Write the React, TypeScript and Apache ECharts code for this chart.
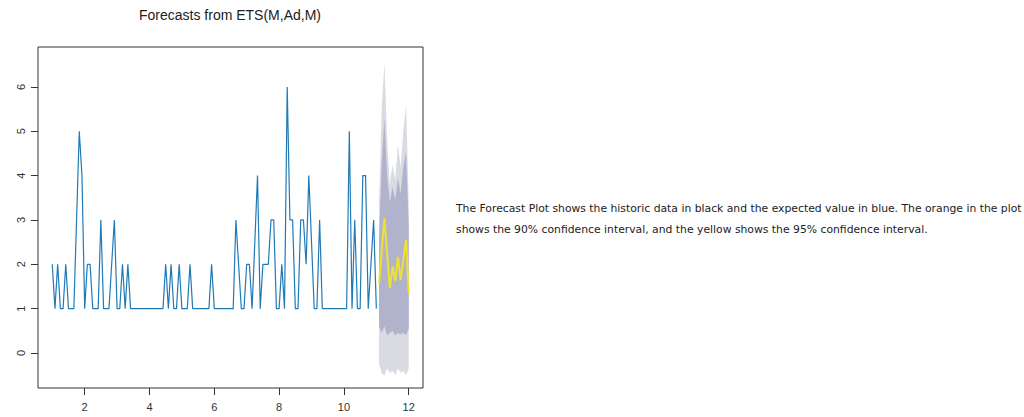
import React, { useEffect, useRef } from "react";
import * as echarts from "echarts";

// Time series layout (start = 1, frequency = 12)
const START = 1;
const FREQ = 12;

const historic: number[] = [
  2, 1, 2, 1, 1, 2, 1, 1, 1, 3, 5, 4,
  1, 2, 2, 1, 1, 1, 3, 1, 1, 1, 2, 3,
  1, 1, 2, 1, 2, 1, 1, 1, 1, 1, 1, 1,
  1, 1, 1, 1, 1, 1, 2, 1, 2, 1, 1, 2,
  1, 1, 1, 2, 1, 1, 1, 1, 1, 1, 1, 2,
  1, 1, 1, 1, 1, 1, 1, 1, 3, 2, 1, 1,
  2, 2, 1, 2.5, 4, 1, 2, 2, 2, 3, 3, 1,
  1, 2, 1, 6, 3, 3, 1, 1, 3, 3, 2, 4,
  2.5, 1, 1, 3, 1, 1, 1, 1, 1, 1, 1, 1,
  1, 1, 5, 1, 3, 1, 1, 4, 4, 1, 2, 3,
  1,
];

// Forecast (12 steps ahead)
const forecastMean: number[] = [1.57, 2.3, 3.04, 2.25, 1.46, 1.95, 1.62, 2.17, 1.65, 2.1, 2.55, 1.35];
const lower80: number[] = [0.6, 0.45, 0.6, 0.4, 0.45, 0.5, 0.4, 0.45, 0.42, 0.45, 0.4, 0.55];
const upper80: number[] = [2.6, 4.3, 5.3, 4.0, 3.4, 3.75, 3.45, 3.95, 3.6, 4.2, 4.55, 2.85];
const lower95: number[] = [-0.25, -0.45, -0.5, -0.35, -0.45, -0.4, -0.5, -0.35, -0.45, -0.4, -0.5, -0.35];
const upper95: number[] = [3.4, 5.5, 6.55, 4.8, 3.8, 4.25, 3.9, 4.7, 4.2, 5.0, 5.6, 3.4];

const xTicks: number[] = [2, 4, 6, 8, 10, 12];
const yTicks: number[] = [0, 1, 2, 3, 4, 5, 6];

const TITLE = "Forecasts from ETS(M,Ad,M)";
const NOTE_1 = "The Forecast Plot shows the historic data in black and the expected value in blue. The orange in the plot";
const NOTE_2 = "shows the 90% confidence interval, and the yellow shows the 95% confidence interval.";

const FONT = "'Liberation Sans', Arial, sans-serif";
const NOTE_FONT = "'DejaVu Sans', Verdana, sans-serif";

export default function App() {
  const ref = useRef<HTMLDivElement>(null);

  useEffect(() => {
    if (!ref.current) return;
    const chart = echarts.init(ref.current, undefined, { renderer: "svg" });

    const histPts = historic.map((v, i) => [START + i / FREQ, v]);
    const fcX = forecastMean.map((_, i) => START + (historic.length + i) / FREQ);
    const meanPts = forecastMean.map((v, i) => [fcX[i], v]);

    const band = (lo: number[], hi: number[], color: string, name: string) => ({
      type: "custom",
      name,
      silent: true,
      clip: true,
      data: hi.map((v, i) => [fcX[i], v, lo[i]]),
      renderItem: (params: any, api: any) => {
        if (params.dataIndex !== 0) return null;
        const top = hi.map((v, i) => api.coord([fcX[i], v]));
        const bot = lo.map((v, i) => api.coord([fcX[i], v])).reverse();
        return {
          type: "polygon",
          shape: { points: top.concat(bot) },
          style: { fill: color, stroke: "none" },
        };
      },
    });

    chart.setOption({
      animation: false,
      grid: {
        left: 38,
        top: 47,
        width: 385,
        height: 341,
        show: true,
        borderColor: "#333",
        borderWidth: 1,
        backgroundColor: "transparent",
      },
      xAxis: {
        type: "value",
        min: 0.56,
        max: 12.44,
        axisLine: { show: false, onZero: false },
        splitLine: { show: false },
        axisTick: { show: true, length: 7, lineStyle: { color: "#333" }, customValues: xTicks },
        axisLabel: { customValues: xTicks, fontSize: 11, color: "#333", margin: 13, fontFamily: FONT },
      },
      yAxis: {
        type: "value",
        min: -0.79,
        max: 6.9,
        axisLine: { show: false, onZero: false },
        splitLine: { show: false },
        axisTick: { show: true, length: 7, lineStyle: { color: "#333" }, customValues: yTicks },
        axisLabel: { customValues: yTicks, rotate: 90, fontSize: 11, color: "#333", margin: 12, fontFamily: FONT },
      },
      graphic: [
        {
          type: "text",
          x: 230,
          y: 15,
          style: {
            text: TITLE,
            fontSize: 14,
            fontFamily: FONT,
            fill: "#222",
            textAlign: "center",
            textVerticalAlign: "middle",
          },
        },
        {
          type: "text",
          x: 456,
          y: 208,
          style: {
            text: NOTE_1,
            fontSize: 10.8,
            fontFamily: NOTE_FONT,
            fill: "#222",
            textAlign: "left",
            textVerticalAlign: "middle",
          },
        },
        {
          type: "text",
          x: 456,
          y: 229,
          style: {
            text: NOTE_2,
            fontSize: 10.8,
            fontFamily: NOTE_FONT,
            fill: "#222",
            textAlign: "left",
            textVerticalAlign: "middle",
          },
        },
      ],
      series: [
        band(lower95, upper95, "#dadae3", "95%"),
        band(lower80, upper80, "#b1b3cd", "80%"),
        {
          type: "line",
          name: "historic",
          data: histPts,
          symbol: "none",
          lineStyle: { color: "#1f7ab6", width: 1.2 },
          silent: true,
        },
        {
          type: "line",
          name: "forecast",
          data: meanPts,
          symbol: "none",
          lineStyle: { color: "#f0e130", width: 2 },
          silent: true,
        },
      ],
    });

    return () => chart.dispose();
  }, []);

  return (
    <div
      ref={ref}
      style={{ position: "absolute", left: 0, top: 0, width: 1024, height: 417 }}
    />
  );
}
